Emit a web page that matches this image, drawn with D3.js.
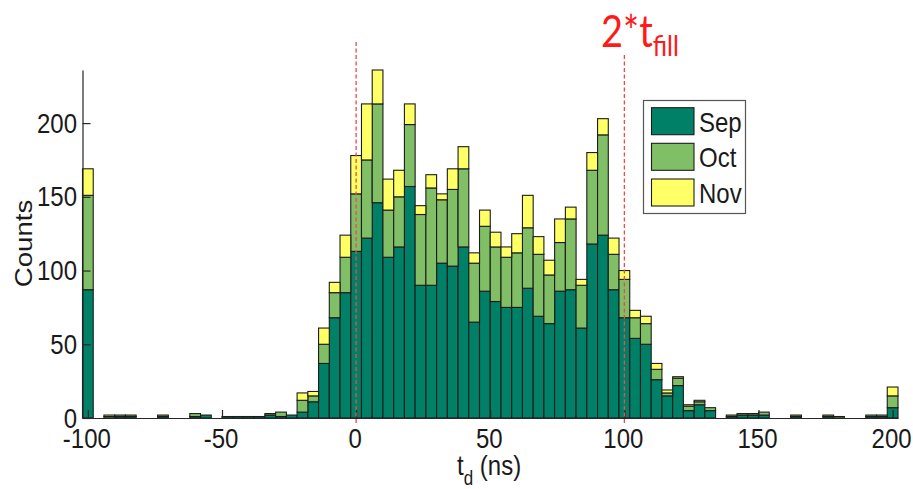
<!DOCTYPE html>
<html>
<head>
<meta charset="utf-8">
<script src="https://cdn.jsdelivr.net/npm/d3@7"></script>
<style>
  body { margin: 0; background: #fff; }
  svg { display: block; }
</style>
</head>
<body>
<div id="chart"></div>
<script>
// stacked histogram of t_d, bins 4 ns wide centred on -100, -96, ... 200 (end bins hold overflow)
const binCenters = d3.range(-100, 201, 4);
const binWidth = 4;

const sep = [87,0,0,1,1,0,0,1,0,0, 1,2,0,1,1,1,1,2,1,2,
             4,11,37,68,85,113,122,146,109,116, 157,90,90,105,103,116,65,86,79,75,
             75,88,69,64,86,87,61,118,124,87, 68,54,50,26,15,22,5,9,5,0,
             1,2,2,2,0,0,1,0,0,1, 0,0,0,1,1,7];
const oct = [64,0,1,1,1,0,0,1,0,0, 2,0,0,0,0,0,0,1,3,0,
             8,4,13,17,24,39,53,67,32,34, 42,48,66,43,52,53,40,44,37,34,
             37,41,42,33,33,48,29,50,68,24, 26,14,14,7,2,5,3,2,2,0,
             1,1,1,2,0,0,1,0,0,1, 1,0,0,1,1,8];
const nov = [18,0,1,0,0,0,0,0,0,0, 0,0,0,0,0,0,0,0,0,0,
             5,3,11,7,15,26,38,23,21,18, 14,6,9,4,14,15,7,11,10,7,
             13,22,12,10,16,8,4,12,11,11, 6,5,5,4,2,1,1,1,0,0,
             0,0,0,0,0,0,0,0,0,0, 0,0,0,0,0,6];

const months = ['Sep', 'Oct', 'Nov'];
const monthColors = ['#008066', '#80bf66', '#ffff66']; // matlab "summer"
const xTicks = [-100, -50, 0, 50, 100, 150, 200];
const yTicks = [0, 50, 100, 150, 200];
const yMax = 236;
const markerLines = [0, 100];

const width = 913, height = 489;
const plot = { left: 82.5, right: 898, top: 70, bottom: 418 };
const stretch = 1.15; // text in the original is squeezed taller than wide

const svg = d3.select('#chart').append('svg')
  .attr('width', width)
  .attr('height', height)
  .attr('viewBox', `0 0 ${width} ${height}`);

// axis limits are tight to the outer bar edges
const x = d3.scaleLinear()
  .domain([binCenters[0] - binWidth / 2, binCenters[binCenters.length - 1] + binWidth / 2])
  .range([plot.left, plot.right]);
const y = d3.scaleLinear().domain([0, yMax]).range([plot.bottom, plot.top]);

const rows = binCenters.map((c, i) => ({
  x0: c - binWidth / 2,
  x1: c + binWidth / 2,
  Sep: sep[i], Oct: oct[i], Nov: nov[i]
}));

const series = d3.stack().keys(months)(rows);

// bars
const barG = svg.append('g');
series.forEach((s, si) => {
  barG.append('g')
    .attr('fill', monthColors[si])
    .selectAll('rect')
    .data(s.filter(d => d[1] > d[0]))
    .join('rect')
    .attr('x', d => x(d.data.x0))
    .attr('width', d => x(d.data.x1) - x(d.data.x0))
    .attr('y', d => y(d[1]))
    .attr('height', d => y(d[0]) - y(d[1]))
    .attr('stroke', '#1c1c1c')
    .attr('stroke-width', 1.1);
});

// axes, ticks point inward like matlab
svg.append('g')
  .attr('transform', `translate(0,${plot.bottom})`)
  .call(d3.axisBottom(x).tickValues(xTicks).tickSize(-8).tickSizeOuter(0).tickFormat(''))
  .call(g => g.selectAll('path,line').attr('stroke', '#262626').attr('stroke-width', 1.2));

svg.append('g')
  .attr('transform', `translate(${plot.left},0)`)
  .call(d3.axisLeft(y).tickValues(yTicks).tickSize(-8).tickSizeOuter(0).tickFormat(''))
  .call(g => g.selectAll('path,line').attr('stroke', '#262626').attr('stroke-width', 1.2));

function label(tx, ty, str, size, anchor) {
  return svg.append('text')
    .attr('transform', `translate(${tx},${ty}) scale(1,${stretch})`)
    .attr('text-anchor', anchor)
    .attr('font-family', '"Liberation Sans", Arial, sans-serif')
    .attr('font-size', size)
    .attr('fill', '#1a1a1a')
    .text(str);
}

xTicks.forEach(t => label(x(t) - 1, 448, t, 24, 'middle'));
yTicks.forEach(t => label(77, y(t) + 9.5, t, 24, 'end'));

// y label
svg.append('text')
  .attr('transform', `translate(32,243.5) scale(1,${stretch}) rotate(-90)`)
  .attr('text-anchor', 'middle')
  .attr('font-family', '"Liberation Sans", Arial, sans-serif')
  .attr('font-size', 24)
  .attr('fill', '#1a1a1a')
  .text('Counts');

// x label t_d (ns)
const xl = label(457, 475, '', 24, 'start');
xl.append('tspan').text('t');
xl.append('tspan').attr('font-size', 17).attr('dy', 10 / stretch).text('d');
xl.append('tspan').attr('dy', -10 / stretch).text(' (ns)');

// dashed markers at 0 and 2*t_fill
svg.append('g')
  .selectAll('line')
  .data(markerLines)
  .join('line')
  .attr('x1', d => x(d)).attr('x2', d => x(d))
  .attr('y1', (d, i) => i === 0 ? 42 : 55)
  .attr('y2', 425)
  .attr('stroke', '#f24848')
  .attr('stroke-width', 1.3)
  .attr('stroke-dasharray', '4,2.5');

const tf = svg.append('text')
  .attr('transform', `translate(601,46.7) scale(1,${stretch})`)
  .attr('font-family', 'Lato, "Open Sans", sans-serif')
  .attr('font-size', 38)
  .attr('fill', '#ff1a1a');
tf.append('tspan').text('2*t');
tf.append('tspan').attr('font-size', 25).attr('dy', 9 / stretch).text('fill');

// legend
const leg = svg.append('g');
leg.append('rect')
  .attr('x', 643.5).attr('y', 100.5)
  .attr('width', 102).attr('height', 113)
  .attr('fill', '#fff')
  .attr('stroke', '#555')
  .attr('stroke-width', 1.2);

const rowY = [107.7, 143.3, 179];
months.forEach((m, i) => {
  leg.append('rect')
    .attr('x', 651.5).attr('y', rowY[i])
    .attr('width', 42.5).attr('height', 27)
    .attr('fill', monthColors[i])
    .attr('stroke', '#1c1c1c')
    .attr('stroke-width', 1.1);
  label(699, rowY[i] + 13.5 + 10.4, m, 24, 'start');
});
</script>
</body>
</html>
